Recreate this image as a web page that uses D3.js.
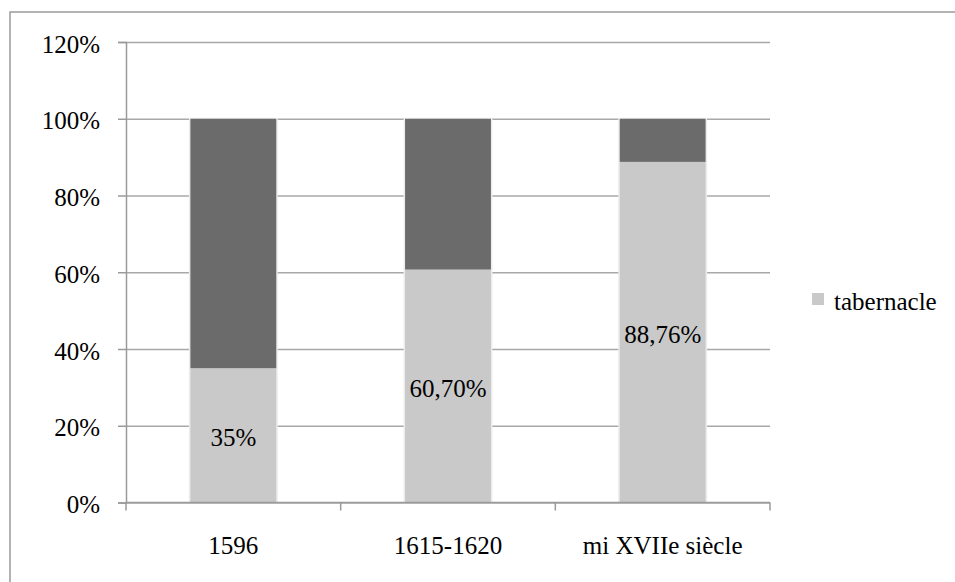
<!DOCTYPE html>
<html>
<head>
<meta charset="utf-8">
<script src="https://cdn.jsdelivr.net/npm/d3@7"></script>
</head>
<body style="margin:0">
<script>
// data
const categories = ["1596", "1615-1620", "mi XVIIe siècle"];
const tabernacle = [0.35, 0.607, 0.8876];
const remainder = [0.65, 0.393, 0.1124];
const valueLabels = ["35%", "60,70%", "88,76%"];
const yTicks = [0, 0.2, 0.4, 0.6, 0.8, 1.0, 1.2];
const legendLabels = ["tabernacle"];

const FONT = "Liberation Serif";
const W = 955, H = 582;
const margin = { top: 42, right: 185, bottom: 79.5, left: 126 };
const width = W - margin.left - margin.right;
const height = H - margin.top - margin.bottom;

const svg = d3.select("body")
  .append("svg")
  .attr("width", W)
  .attr("height", H)
  .style("display", "block");

// outer frame, runs off the right and bottom edges
svg.append("rect")
  .attr("x", 10).attr("y", 12)
  .attr("width", W).attr("height", H)
  .attr("fill", "none")
  .attr("stroke", "#9a9a9a")
  .attr("stroke-width", 1.5);

const g = svg.append("g")
  .attr("transform", `translate(${margin.left},${margin.top})`);

const x = d3.scaleBand()
  .domain(categories)
  .range([0, width])
  .paddingInner(0.6)
  .paddingOuter(0.3);

const band = width / categories.length;

const y = d3.scaleLinear()
  .domain([0, 1.2])
  .range([height, 0]);

// gridlines
g.append("g")
  .call(d3.axisLeft(y)
    .tickValues(yTicks)
    .tickSize(-width)
    .tickFormat("")
  )
  .call(g => g.select(".domain").remove())
  .selectAll("line")
  .attr("stroke", "#a8a8a8")
  .attr("stroke-width", 1.5);

// y axis: line and ticks, labels drawn separately
g.append("g")
  .call(d3.axisLeft(y)
    .tickValues(yTicks)
    .tickSize(8)
    .tickFormat("")
  )
  .call(g => g.select(".domain").attr("stroke", "#9a9a9a").attr("stroke-width", 1.5))
  .call(g => g.selectAll(".tick line").attr("stroke", "#9a9a9a").attr("stroke-width", 1.5));

g.append("g")
  .selectAll("text")
  .data(yTicks)
  .join("text")
  .attr("x", -26)
  .attr("y", d => y(d))
  .attr("dy", "0.42em")
  .attr("text-anchor", "end")
  .attr("font-family", FONT)
  .attr("font-size", 25)
  .text(d => `${Math.round(d * 100)}%`);

// stacked bars
const stackData = categories.map((c, i) => ({ cat: c, tabernacle: tabernacle[i], rest: remainder[i] }));
const series = d3.stack().keys(["tabernacle", "rest"])(stackData);
const color = d3.scaleOrdinal().domain(["tabernacle", "rest"]).range(["#c9c9c9", "#6b6b6b"]);

// soft halo behind each bar
g.append("g")
  .selectAll("rect")
  .data(stackData)
  .join("rect")
  .attr("x", d => x(d.cat) - 1.5)
  .attr("y", y(1) - 1)
  .attr("width", x.bandwidth() + 3)
  .attr("height", y(0) - y(1) + 1)
  .attr("fill", "#ececec");

g.append("g")
  .selectAll("g")
  .data(series)
  .join("g")
  .attr("fill", d => color(d.key))
  .selectAll("rect")
  .data(d => d)
  .join("rect")
  .attr("x", d => x(d.data.cat))
  .attr("y", d => y(d[1]))
  .attr("height", d => y(d[0]) - y(d[1]))
  .attr("width", x.bandwidth());

// x axis with ticks between categories
const xTickPos = d3.range(categories.length + 1).map(i => i * band);
const xAxis = g.append("g").attr("transform", `translate(0,${height})`);
xAxis.append("line")
  .attr("x1", 0).attr("x2", width)
  .attr("stroke", "#9a9a9a").attr("stroke-width", 1.5);
xAxis.selectAll(".xt")
  .data(xTickPos)
  .join("line")
  .attr("class", "xt")
  .attr("x1", d => d).attr("x2", d => d)
  .attr("y1", 0).attr("y2", 8)
  .attr("stroke", "#9a9a9a").attr("stroke-width", 1.5);
xAxis.selectAll(".xl")
  .data(categories)
  .join("text")
  .attr("class", "xl")
  .attr("x", d => x(d) + x.bandwidth() / 2)
  .attr("y", 51.5)
  .attr("text-anchor", "middle")
  .attr("font-family", FONT)
  .attr("font-size", 25)
  .text(d => d);

// value labels centred in the tabernacle segment
g.append("g")
  .selectAll("text")
  .data(series[0])
  .join("text")
  .attr("x", d => x(d.data.cat) + x.bandwidth() / 2)
  .attr("y", d => (y(d[0]) + y(d[1])) / 2)
  .attr("dy", "0.42em")
  .attr("text-anchor", "middle")
  .attr("font-family", FONT)
  .attr("font-size", 25)
  .text((d, i) => valueLabels[i]);

// legend
const legend = svg.append("g")
  .attr("transform", "translate(812,293)");
legend.selectAll("rect")
  .data(legendLabels)
  .join("rect")
  .attr("width", 12).attr("height", 12)
  .attr("fill", color("tabernacle"));
legend.selectAll("text")
  .data(legendLabels)
  .join("text")
  .attr("x", 22)
  .attr("y", 17)
  .attr("font-family", FONT)
  .attr("font-size", 25)
  .text(d => d);
</script>
</body>
</html>
